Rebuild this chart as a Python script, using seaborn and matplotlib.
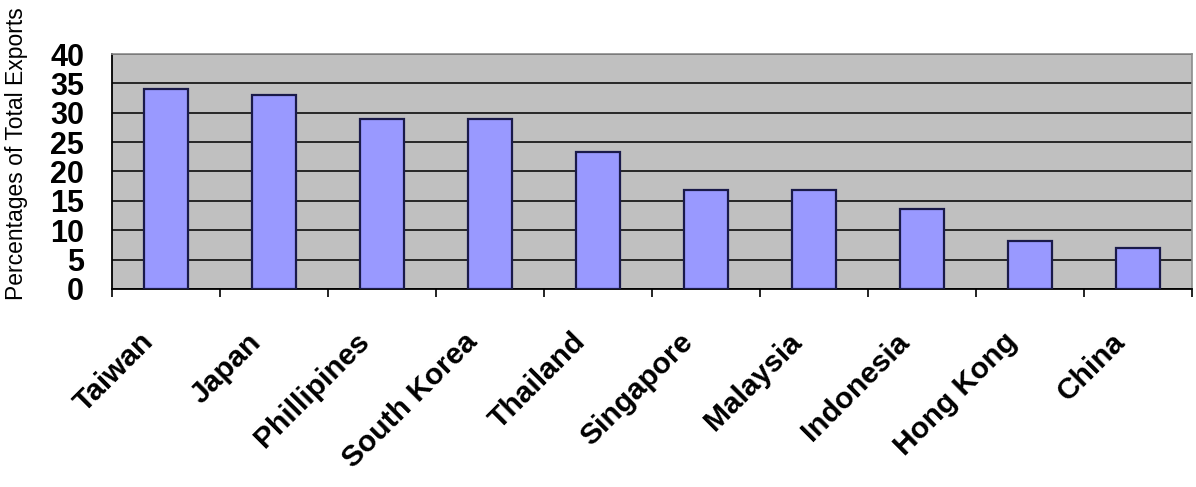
import matplotlib
matplotlib.use("Agg")
import matplotlib.pyplot as plt
import matplotlib.transforms as mtransforms
from matplotlib.ticker import FixedLocator
import seaborn as sns
import pandas as pd

countries = ["Taiwan", "Japan", "Phillipines", "South Korea", "Thailand",
             "Singapore", "Malaysia", "Indonesia", "Hong Kong", "China"]
percentages = [34.0, 33.0, 29.0, 29.0, 23.3, 16.8, 16.8, 13.6, 8.1, 7.0]
y_ticks = [0, 5, 10, 15, 20, 25, 30, 35, 40]

sns.set_theme(style="white")
plt.rcParams["font.family"] = ["Liberation Sans", "DejaVu Sans"]

df = pd.DataFrame({"country": countries, "pct": percentages})

fig = plt.figure(figsize=(11.96, 4.87), dpi=100)
ax = fig.add_axes([0.0936, 0.4066, 0.9031, 0.4825])
ax.set_facecolor("#C0C0C0")

sns.barplot(data=df, x="country", y="pct", order=countries, width=0.4,
            color="#9999FF", saturation=1, edgecolor="#1A1A4A", linewidth=1.6,
            ax=ax, zorder=3)

ax.set_xlim(-0.5, len(countries) - 0.5)
ax.set_ylim(0, 40)
ax.set_yticks(y_ticks)
ax.yaxis.grid(True, color="#1A1A1A", linewidth=1.3, zorder=1)
ax.set_axisbelow(True)

for side in ["top", "right"]:
    ax.spines[side].set_color("#8C8C8C")
    ax.spines[side].set_linewidth(1.2)
for side in ["left", "bottom"]:
    ax.spines[side].set_color("#000000")
    ax.spines[side].set_linewidth(1.3)

ax.tick_params(axis="y", which="major", direction="out", length=7, width=1.2,
               color="black", pad=13, labelsize=22, labelcolor="black")
for lbl in ax.get_yticklabels():
    lbl.set_fontweight("bold")

# x tick marks at category boundaries, labels at category centers
ax.xaxis.set_minor_locator(FixedLocator([i - 0.5 for i in range(len(countries) + 1)]))
ax.tick_params(axis="x", which="minor", direction="out", length=6, width=1.2,
               color="black", bottom=True)
ax.tick_params(axis="x", which="major", length=0, pad=35, labelcolor="black")
ax.set_xticks(range(len(countries)))
ax.set_xticklabels(countries, rotation=45, ha="right", va="center",
                   rotation_mode="anchor", fontsize=21.5, fontweight="bold")
offset = mtransforms.ScaledTranslation(-0.17, 0, fig.dpi_scale_trans)
for lbl in ax.get_xticklabels():
    lbl.set_transform(lbl.get_transform() + offset)

ax.set_xlabel("")
ax.set_ylabel("Percentages of Total Exports", fontsize=16.5, color="black")
ax.yaxis.set_label_coords(-0.078, 0.574)

fig.savefig("out.png", dpi=100, facecolor="white")
